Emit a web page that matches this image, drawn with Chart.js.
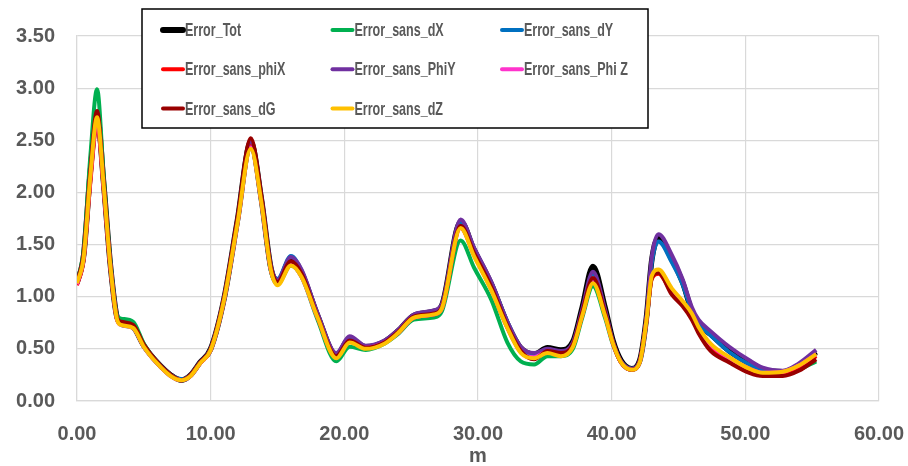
<!DOCTYPE html>
<html>
<head>
<meta charset="utf-8">
<script src="https://cdn.jsdelivr.net/npm/chart.js@4/dist/chart.umd.min.js"></script>
<style>
    html, body { margin: 0; padding: 0; background: #ffffff; }
    #wrap { width: 908px; height: 466px; }
</style>
</head>
<body>
<div id="wrap"><canvas id="errChart" width="908" height="466"></canvas></div>
<script>
// distance along the track (m)
const positions = [0, 0.5, 1.0, 1.5, 2.0, 2.5, 3.0, 3.3, 4.2, 5.0, 6.0, 7.0, 7.8, 8.5, 9.2, 10.0,
    11.0, 12.0, 13.0, 13.8, 14.5, 15.0, 16.0, 16.8, 18.0, 19.4, 20.4, 21.6, 23.0, 24.0, 25.2,
    26.7, 27.3, 28.7, 29.7, 31.0, 32.2, 33.2, 34.2, 35.2, 36.2, 37.1, 37.8, 38.6, 39.5, 40.1,
    40.7, 41.5, 42.1, 42.6, 43.0, 43.5, 44.5, 45.3, 46.0, 46.5, 47.4, 48.8, 50.3, 51.3, 52.8,
    54.0, 55.3];

const errorTot = [1.13, 1.40, 2.20, 2.75, 2.08, 1.30, 0.80, 0.75, 0.71, 0.53, 0.37, 0.25, 0.20, 0.25, 0.37, 0.50,
    0.98, 1.73, 2.48, 1.93, 1.28, 1.14, 1.36, 1.23, 0.82, 0.44, 0.60, 0.52, 0.57, 0.67, 0.82,
    0.86, 0.92, 1.72, 1.45, 1.12, 0.74, 0.51, 0.45, 0.51, 0.49, 0.57, 0.90, 1.29, 0.90, 0.58,
    0.39, 0.31, 0.39, 0.80, 1.35, 1.56, 1.36, 1.14, 0.86, 0.74, 0.64, 0.48, 0.36, 0.30, 0.28,
    0.34, 0.47];
const errorSansDX = [1.14, 1.45, 2.35, 2.99, 2.15, 1.33, 0.82, 0.79, 0.76, 0.55, 0.37, 0.25, 0.20, 0.25, 0.36, 0.49,
    0.97, 1.71, 2.44, 1.90, 1.25, 1.12, 1.30, 1.19, 0.78, 0.38, 0.52, 0.49, 0.55, 0.64, 0.78,
    0.80, 0.86, 1.54, 1.28, 0.97, 0.56, 0.38, 0.35, 0.43, 0.43, 0.50, 0.80, 1.10, 0.80, 0.54,
    0.37, 0.30, 0.37, 0.76, 1.18, 1.24, 1.05, 0.94, 0.81, 0.69, 0.53, 0.40, 0.29, 0.25, 0.26,
    0.30, 0.38];
const errorSansDY = [1.13, 1.40, 2.18, 2.73, 2.07, 1.30, 0.79, 0.73, 0.70, 0.52, 0.37, 0.25, 0.21, 0.25, 0.37, 0.50,
    0.98, 1.72, 2.46, 1.93, 1.29, 1.17, 1.39, 1.25, 0.82, 0.44, 0.59, 0.52, 0.57, 0.66, 0.81,
    0.85, 0.91, 1.71, 1.46, 1.13, 0.76, 0.51, 0.44, 0.49, 0.47, 0.55, 0.86, 1.22, 0.86, 0.56,
    0.38, 0.31, 0.38, 0.78, 1.32, 1.53, 1.33, 1.12, 0.86, 0.74, 0.63, 0.47, 0.35, 0.30, 0.28,
    0.33, 0.45];
const errorSansPhiX = [1.11, 1.36, 2.10, 2.66, 2.02, 1.27, 0.78, 0.74, 0.71, 0.53, 0.37, 0.25, 0.20, 0.25, 0.36, 0.49,
    0.97, 1.71, 2.45, 1.91, 1.26, 1.13, 1.33, 1.21, 0.80, 0.42, 0.57, 0.51, 0.56, 0.65, 0.80,
    0.83, 0.89, 1.66, 1.40, 1.07, 0.70, 0.47, 0.41, 0.47, 0.45, 0.53, 0.82, 1.15, 0.83, 0.55,
    0.37, 0.30, 0.38, 0.76, 1.17, 1.22, 1.04, 0.93, 0.80, 0.68, 0.52, 0.39, 0.29, 0.25, 0.26,
    0.31, 0.43];
const errorSansPhiY = [1.14, 1.40, 2.19, 2.74, 2.08, 1.31, 0.80, 0.74, 0.71, 0.53, 0.37, 0.25, 0.20, 0.25, 0.37, 0.50,
    0.99, 1.74, 2.49, 1.95, 1.30, 1.16, 1.38, 1.26, 0.84, 0.46, 0.62, 0.53, 0.58, 0.68, 0.83,
    0.87, 0.93, 1.74, 1.47, 1.14, 0.76, 0.52, 0.46, 0.50, 0.48, 0.56, 0.88, 1.24, 0.88, 0.57,
    0.38, 0.31, 0.39, 0.81, 1.38, 1.60, 1.40, 1.17, 0.90, 0.78, 0.67, 0.52, 0.39, 0.32, 0.29,
    0.36, 0.49];
const errorSansPhiZ = [1.12, 1.38, 2.15, 2.70, 2.05, 1.29, 0.78, 0.73, 0.70, 0.52, 0.36, 0.24, 0.20, 0.24, 0.36, 0.49,
    0.97, 1.70, 2.43, 1.90, 1.26, 1.12, 1.31, 1.19, 0.80, 0.42, 0.57, 0.51, 0.56, 0.65, 0.80,
    0.83, 0.89, 1.67, 1.40, 1.07, 0.71, 0.47, 0.42, 0.47, 0.44, 0.53, 0.83, 1.15, 0.83, 0.55,
    0.37, 0.30, 0.37, 0.77, 1.20, 1.25, 1.07, 0.95, 0.83, 0.70, 0.54, 0.41, 0.31, 0.27, 0.28,
    0.34, 0.45];
const errorSansDG = [1.14, 1.42, 2.22, 2.78, 2.10, 1.31, 0.80, 0.76, 0.73, 0.54, 0.37, 0.25, 0.20, 0.25, 0.37, 0.50,
    0.99, 1.75, 2.52, 1.96, 1.29, 1.14, 1.34, 1.22, 0.81, 0.43, 0.58, 0.51, 0.56, 0.66, 0.81,
    0.84, 0.90, 1.68, 1.42, 1.09, 0.72, 0.48, 0.40, 0.48, 0.46, 0.54, 0.85, 1.18, 0.85, 0.56,
    0.37, 0.30, 0.38, 0.77, 1.18, 1.23, 1.02, 0.91, 0.78, 0.65, 0.48, 0.37, 0.27, 0.24, 0.24,
    0.29, 0.40];
const errorSansDZ = [1.13, 1.38, 2.16, 2.72, 2.06, 1.29, 0.78, 0.73, 0.70, 0.52, 0.36, 0.24, 0.20, 0.24, 0.36, 0.49,
    0.97, 1.70, 2.42, 1.90, 1.26, 1.11, 1.30, 1.19, 0.80, 0.41, 0.56, 0.50, 0.55, 0.65, 0.80,
    0.83, 0.89, 1.66, 1.39, 1.06, 0.70, 0.46, 0.41, 0.46, 0.43, 0.52, 0.82, 1.13, 0.82, 0.55,
    0.37, 0.30, 0.37, 0.77, 1.20, 1.26, 1.08, 0.96, 0.84, 0.71, 0.55, 0.42, 0.31, 0.27, 0.28,
    0.34, 0.45];

const seriesNames = ['Error_Tot', 'Error_sans_dX', 'Error_sans_dY', 'Error_sans_phiX',
    'Error_sans_PhiY', 'Error_sans_Phi Z', 'Error_sans_dG', 'Error_sans_dZ'];
const seriesValues = [errorTot, errorSansDX, errorSansDY, errorSansPhiX,
    errorSansPhiY, errorSansPhiZ, errorSansDG, errorSansDZ];
const seriesColors = ['#000000', '#00B050', '#0070C0', '#FF0000',
    '#7030A0', '#FF33CC', '#990000', '#FFC000'];

const textColor = '#595959';
const gridColor = '#d9d9d9';
const tickFont = { family: '"Liberation Sans", Arial, sans-serif', size: 20, weight: 'bold' };

// boxed legend drawn over the plot, three entries per row
const boxLegend = {
    id: 'boxLegend',
    afterDraw(chart) {
        const ctx = chart.ctx;
        const box = { left: 142, top: 9, width: 506, height: 119 };
        ctx.save();
        ctx.fillStyle = '#ffffff';
        ctx.fillRect(box.left, box.top, box.width, box.height);
        ctx.strokeStyle = '#000000';
        ctx.lineWidth = 1.5;
        ctx.strokeRect(box.left, box.top, box.width, box.height);

        chart.data.datasets.forEach((ds, i) => {
            const col = i % 3;
            const row = Math.floor(i / 3);
            const x = 163 + col * 169.5;
            const y = 30 + row * 39.2;
            ctx.strokeStyle = ds.borderColor;
            ctx.lineWidth = i === 0 ? 6 : 4;
            ctx.lineCap = 'round';
            ctx.beginPath();
            ctx.moveTo(x, y);
            ctx.lineTo(x + 20, y);
            ctx.stroke();

            ctx.save();
            ctx.translate(x + 22, y);
            ctx.scale(0.66, 1);
            ctx.fillStyle = textColor;
            ctx.font = 'bold 19px "Liberation Sans", Arial, sans-serif';
            ctx.textBaseline = 'middle';
            ctx.fillText(ds.label, 0, 1);
            ctx.restore();
        });
        ctx.restore();
    }
};

const ctx = document.getElementById('errChart');
new Chart(ctx, {
    type: 'line',
    data: {
        datasets: seriesNames.map((name, i) => ({
            label: name,
            data: positions.map((x, k) => ({ x: x, y: seriesValues[i][k] })),
            borderColor: seriesColors[i],
            backgroundColor: seriesColors[i],
            borderWidth: i === 0 ? 5.5 : 4,
            pointRadius: 0,
            cubicInterpolationMode: 'monotone',
            fill: false,
            // later series sit on top
            order: seriesNames.length - i
        }))
    },
    options: {
        responsive: false,
        animation: false,
        layout: { padding: { left: 16, right: 29, top: 36, bottom: 0 } },
        plugins: {
            legend: { display: false },
            tooltip: { enabled: false }
        },
        scales: {
            x: {
                type: 'linear',
                min: 0,
                max: 60,
                grid: { color: gridColor, lineWidth: 1.2, drawTicks: false },
                border: { color: gridColor, width: 1.2 },
                ticks: {
                    stepSize: 10,
                    padding: 21,
                    color: textColor,
                    font: tickFont,
                    callback: v => v.toFixed(2)
                },
                title: {
                    display: true,
                    text: 'm',
                    color: textColor,
                    padding: { top: 0, bottom: 0 },
                    font: { family: tickFont.family, size: 20, weight: 'bold', lineHeight: 1 }
                },
                afterFit(scale) {
                    scale.height = 65;
                    scale.paddingLeft = 0;
                    scale.paddingRight = 0;
                }
            },
            y: {
                min: 0,
                max: 3.5,
                grid: { color: gridColor, lineWidth: 1.2, drawTicks: false },
                border: { color: gridColor, width: 1.2 },
                ticks: {
                    stepSize: 0.5,
                    padding: 22,
                    color: textColor,
                    font: tickFont,
                    callback: v => v.toFixed(2)
                },
                afterFit(scale) {
                    scale.width = 61;
                }
            }
        }
    },
    plugins: [boxLegend]
});
</script>
</body>
</html>
